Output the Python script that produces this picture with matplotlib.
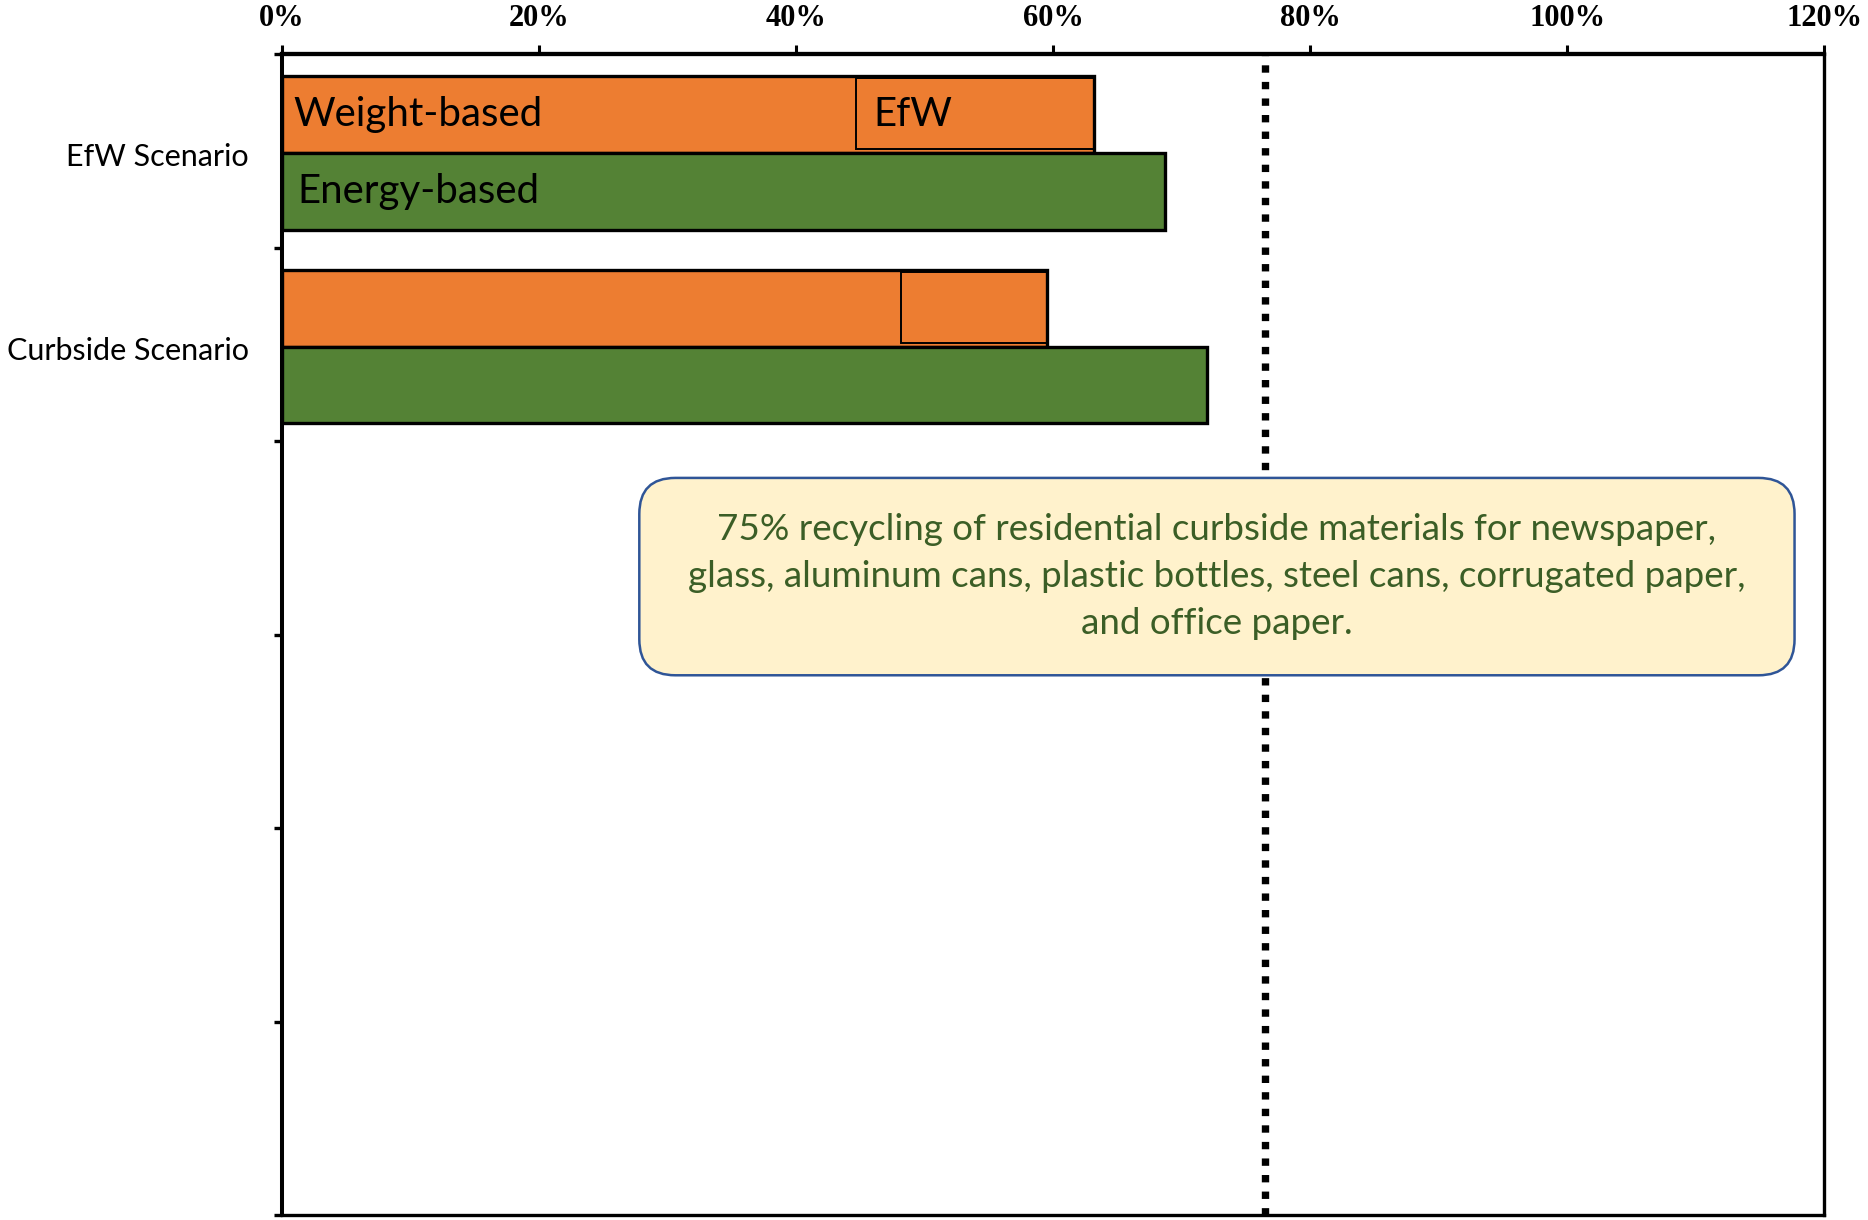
import matplotlib
matplotlib.use("Agg")
import matplotlib.pyplot as plt
from matplotlib.patches import FancyBboxPatch
from matplotlib.ticker import FixedLocator, NullFormatter

# Recycling rate by scenario (percent)
scenarios = ["EfW Scenario", "Curbside Scenario"]
weight_based = [44.7, 48.2]       # weight-based rate without EfW credit
weight_with_efw = [63.2, 59.5]    # weight-based rate including EfW
energy_based = [68.7, 72.0]       # energy-based rate
target_line = 76.5
n_slots = 6
x_ticks = [0, 20, 40, 60, 80, 100, 120]
x_tick_labels = ["0%", "20%", "40%", "60%", "80%", "100%", "120%"]
note_text = ("75% recycling of residential curbside materials for newspaper,\n"
             "glass, aluminum cans, plastic bottles, steel cans, corrugated paper,\n"
             "and office paper.")

ORANGE = "#ED7D31"
GREEN = "#548235"

fig = plt.figure(figsize=(18.68, 12.20), dpi=100)
ax = fig.add_axes([0.151, 0.004, 0.8255, 0.9516])

bar_h = 0.397
split = 0.011  # shared edge of the two bars, relative to the slot centre
centers = [i + 0.5 for i in range(len(scenarios))]
for c, wb, we, eb in zip(centers, weight_based, weight_with_efw, energy_based):
    yo = c + split - bar_h / 2
    yg = c + split + bar_h / 2
    ax.barh(yo, we, height=bar_h, color=ORANGE, edgecolor="black", linewidth=2.4, zorder=3)
    ax.barh(yo - 0.005, we - wb, left=wb, height=bar_h - 0.03, color="none",
            edgecolor="black", linewidth=1.4, zorder=4)
    ax.barh(yg, eb, height=bar_h, color=GREEN, edgecolor="black", linewidth=2.4, zorder=3)

# Series labels inside the first group
lab_font = "Lato"
yo0 = centers[0] + split - bar_h / 2
yg0 = centers[0] + split + bar_h / 2
ax.text(0.9, yo0, "Weight-based", fontsize=29, family=lab_font,
        va="center", ha="left", color="black", zorder=5)
ax.text(weight_based[0] + 1.3, yo0, "EfW", fontsize=29, family=lab_font,
        va="center", ha="left", color="black", zorder=5)
ax.text(1.2, yg0, "Energy-based", fontsize=29, family=lab_font,
        va="center", ha="left", color="black", zorder=5)

# Target line
ax.axvline(target_line, color="black", linewidth=5.3, dashes=(1.0, 1.25),
           dash_capstyle="butt", zorder=2)

ax.set_xlim(0, 120)
ax.set_ylim(n_slots, 0)

ax.xaxis.tick_top()
ax.set_xticks(x_ticks)
ax.set_xticklabels(x_tick_labels, family="Liberation Serif", fontweight="bold", fontsize=22)
ax.tick_params(axis="x", direction="out", length=6.5, width=2.2, pad=9, top=True, bottom=False)

ax.yaxis.set_major_locator(FixedLocator(range(n_slots + 1)))
ax.yaxis.set_major_formatter(NullFormatter())
ax.yaxis.set_minor_locator(FixedLocator([c + 0.02 for c in centers]))
ax.set_yticklabels(scenarios, minor=True, family=lab_font, fontsize=22)
ax.tick_params(axis="y", which="major", direction="out", length=6, width=2.4)
ax.tick_params(axis="y", which="minor", length=0, pad=24)

ax.spines["top"].set_linewidth(3.1)
ax.spines["left"].set_linewidth(2.9)
ax.spines["right"].set_linewidth(2.4)
ax.spines["bottom"].set_linewidth(2.4)
for s in ax.spines.values():
    s.set_zorder(6)

# Note box: extents given in data units, drawn in inches so the corners stay round
box_x0, box_x1 = 27.8, 117.7
box_y0, box_y1 = 2.19, 3.21
p0 = ax.transData.transform((box_x0, box_y1))
p1 = ax.transData.transform((box_x1, box_y0))
inv = fig.dpi_scale_trans.inverted()
(ix0, iy0) = inv.transform(p0)
(ix1, iy1) = inv.transform(p1)
rad = 0.36
box = FancyBboxPatch((ix0 + rad, iy0 + rad), (ix1 - ix0) - 2 * rad, (iy1 - iy0) - 2 * rad,
                     boxstyle=f"round,pad={rad},rounding_size={rad}",
                     transform=fig.dpi_scale_trans, facecolor="#FFF2CC",
                     edgecolor="#2F5597", linewidth=1.8, zorder=7)
fig.add_artist(box)
fig.text((ix0 + ix1) / 2, (iy0 + iy1) / 2, note_text, transform=fig.dpi_scale_trans,
         ha="center", va="center", multialignment="center", fontsize=26.5,
         family=lab_font, color="#3B5E26", linespacing=1.53, zorder=8)

fig.savefig("out.png", dpi=100)
